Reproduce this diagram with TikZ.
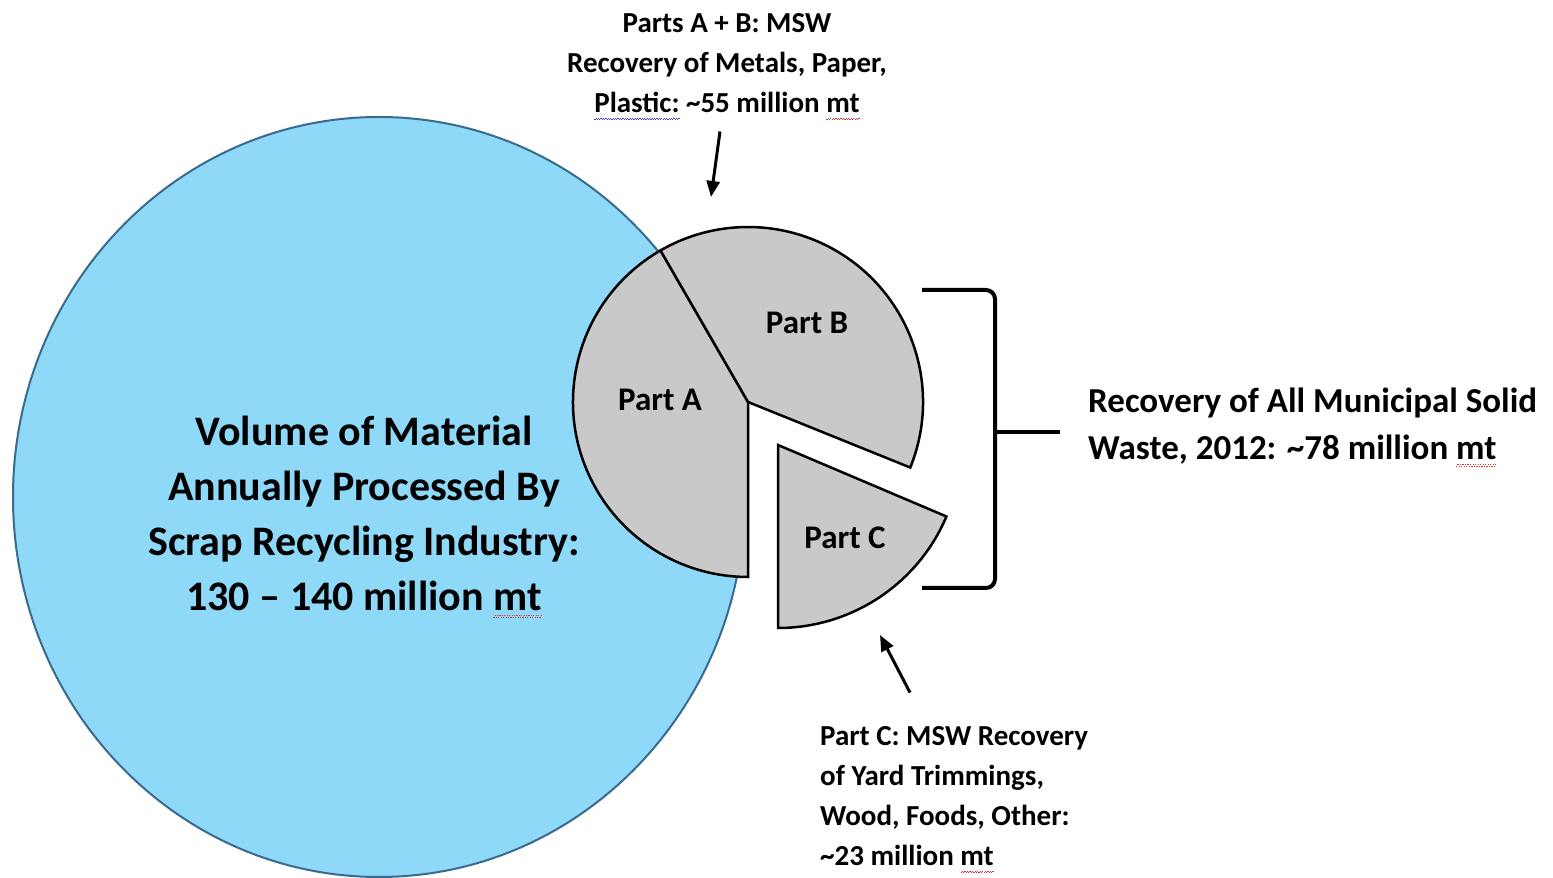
\documentclass[tikz,border=0pt]{standalone}
\usepackage{fontspec}
\setmainfont{Carlito}
\usepackage{tikz}
\usetikzlibrary{arrows.meta, calc}
\definecolor{scrap}{HTML}{8ED8F8}
\definecolor{scrapline}{HTML}{3A6A8E}
\definecolor{slice}{HTML}{C9C9C9}
\definecolor{spellred}{HTML}{E03030}
\definecolor{spellblue}{HTML}{3A3AC8}
% spell-checker squiggle under one word: #1 colour, #2 word
\newcommand{\spellwave}[2]{\setbox0\hbox{#2}\rlap{\color{#1}\xleaders\hbox{\rule[-7.5pt]{1.2pt}{1pt}\rule[-6pt]{1.2pt}{1pt}}\hskip\wd0}\box0\relax}
\tikzset{
  slicebox/.style={draw=black, line width=2.5pt, fill=slice, line join=miter},
  lbl/.style={font=\bfseries\fontsize{33}{40}\selectfont, inner sep=0pt},
  note/.style={align=left, font=\bfseries\fontsize{29}{40}\selectfont, inner sep=0pt},
  arr/.style={-{Triangle[length=16pt,width=13pt]}, line width=3pt},
  brk/.style={line width=4pt, rounded corners=9pt},
}

\begin{document}
\begin{tikzpicture}[x=1pt, y=1pt]
\useasboundingbox (0,0) rectangle (1553,878);
% scrap industry volume
\draw[fill=scrap, draw=scrapline, line width=2pt] (379,381) ellipse[x radius=366, y radius=380];
\node[align=center, font=\bfseries\fontsize{42}{55}\selectfont, inner sep=0pt] (vol) at (364,361)
  {Volume of Material\\Annually Processed By\\Scrap Recycling Industry:\\130 -- 140 million \spellwave{spellred}{mt}};
% MSW pie, part C pulled out
\coordinate (O) at (748,476);
\draw[slicebox] (O) -- ++(120:175) arc[start angle=120, end angle=270, radius=175] -- cycle;
\draw[slicebox] (O) -- ++(-22:175) arc[start angle=-22, end angle=120, radius=175] -- cycle;
\coordinate (C0) at (778,433);
\draw[slicebox] (C0) -- ++(-90:183) arc[start angle=-90, end angle=-23, radius=183] -- cycle;
\node[lbl] (pa) at (660,478) {Part A};
\node[lbl] (pb) at (807,555) {Part B};
\node[lbl] (pc) at (845,340) {Part C};
% callouts
\node[note, align=center] (ablbl) at (727,811) {Parts A + B: MSW\\Recovery of Metals, Paper,\\\spellwave{spellblue}{Plastic:} \textasciitilde55 million \spellwave{spellred}{mt}};
\coordinate (abtip) at (711,681);
\draw[arr] ($(ablbl.south)+(-7,-11)$) -- (abtip);
\node[note, anchor=west] (clbl) at (820,78) {Part C: MSW Recovery\\of Yard Trimmings,\\Wood, Foods, Other:\\\textasciitilde23 million \spellwave{spellred}{mt}};
\coordinate (ctip) at (880,243);
\draw[arr] ($(clbl.north west)+(90,34)$) -- (ctip);
% bracket round the whole pie
\draw[brk] (922,588) -- (995,588) -- (995,290) -- (922,290);
\coordinate (brkmid) at (995,446);
\node[note, anchor=west, font=\bfseries\fontsize{35}{47}\selectfont] (msw) at (1088,451)
  {Recovery of All Municipal Solid\\Waste, 2012: \textasciitilde78 million \spellwave{spellred}{mt}};
\draw[line width=4pt, shorten >=28pt] (brkmid) -- (brkmid -| msw.west);
\end{tikzpicture}
\end{document}
